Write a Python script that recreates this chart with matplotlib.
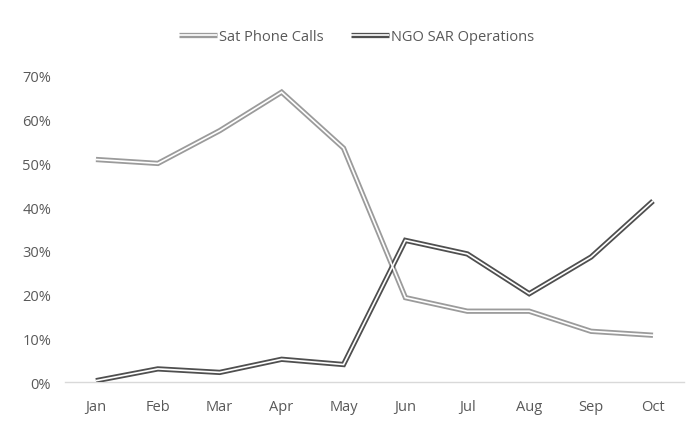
import matplotlib

matplotlib.use("Agg")
from matplotlib import pyplot as plt
from matplotlib.ticker import PercentFormatter

months = ["Jan", "Feb", "Mar", "Apr", "May", "Jun", "Jul", "Aug", "Sep", "Oct"]
sat_phone_calls = [0.509, 0.500, 0.575, 0.663, 0.535, 0.193, 0.162, 0.162, 0.116, 0.107]
ngo_sar_operations = [0.003, 0.030, 0.022, 0.052, 0.040, 0.324, 0.293, 0.202, 0.286, 0.414]
y_ticks = [0.0, 0.1, 0.2, 0.3, 0.4, 0.5, 0.6, 0.7]

TEXT_COLOR = "#595959"
plt.rcParams["font.family"] = ["Open Sans", "DejaVu Sans"]

fig = plt.figure(figsize=(6.95, 4.27), dpi=100)
ax = fig.add_axes([0.0935, 0.103, 0.8906, 0.7167])

x = list(range(len(months)))


def double_line(values, color, label):
    outer, = ax.plot(x, values, color=color, linewidth=3.8, solid_joinstyle="miter",
                     solid_capstyle="butt", zorder=3)
    inner, = ax.plot(x, values, color="white", linewidth=1.2, solid_joinstyle="miter",
                     solid_capstyle="butt", zorder=4)
    return (outer, inner), label


h1, l1 = double_line(sat_phone_calls, "#9b9b9b", "Sat Phone Calls")
h2, l2 = double_line(ngo_sar_operations, "#4f4f4f", "NGO SAR Operations")

ax.set_xlim(-0.5, len(months) - 0.5)
ax.set_ylim(0, 0.7)
ax.set_xticks(x)
ax.set_xticklabels(months)
ax.set_yticks(y_ticks)
ax.yaxis.set_major_formatter(PercentFormatter(1.0, decimals=0))
ax.tick_params(axis="both", length=0, labelsize=10.5, labelcolor=TEXT_COLOR)
ax.tick_params(axis="x", pad=12)
ax.tick_params(axis="y", pad=10)

for side in ("top", "right", "left"):
    ax.spines[side].set_visible(False)
ax.spines["bottom"].set_color("#d9d9d9")
ax.spines["bottom"].set_linewidth(1.0)

fig.legend([h1, h2], [l1, l2], loc="center", bbox_to_anchor=(0.513, 0.912), ncol=2,
           frameon=False, fontsize=10.5, labelcolor=TEXT_COLOR, handlelength=2.6,
           handletextpad=0.15, columnspacing=1.9)

fig.savefig("out.png", dpi=100)
